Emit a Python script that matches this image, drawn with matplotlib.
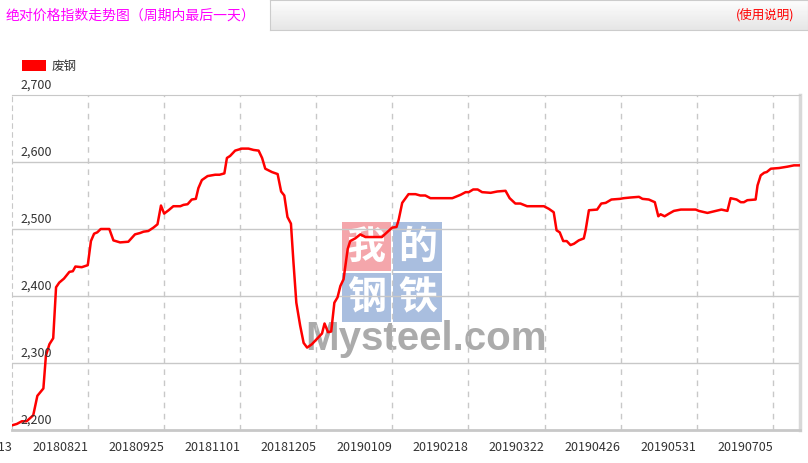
import numpy as np
import matplotlib.pyplot as plt
import matplotlib.transforms as mtransforms
from matplotlib.patches import Rectangle

plt.rcParams['font.family'] = ['Noto Sans CJK SC', 'DejaVu Sans']

W, H = 808, 463

title = "绝对价格指数走势图（周期内最后一天）"
help_text = "(使用说明)"
series_name = "废钢"

# trading day index (category axis) and index value
day_idx = [0, 1.5, 3.1, 4.6, 6.7, 8.0, 9.9, 10.7, 11.8, 13.0, 13.9, 14.9, 16.4, 18.1,
           19.2, 20.0, 22.0, 23.9, 24.9, 25.9, 26.9, 28.0, 30.7, 32.0, 34.1, 36.7,
           38.8, 40.4, 41.5, 43.0, 44.6, 45.9, 47.0, 48.0, 49.4, 50.9, 53.1, 54.1,
           55.4, 56.7, 58.0, 58.8, 59.9, 61.7, 64.1, 65.5, 67.0, 67.8, 68.8, 70.4,
           72.5, 74.6, 76.2, 77.8, 78.9, 79.9, 82.0, 83.8, 84.9, 85.9, 86.9, 88.0,
           88.8, 89.7, 90.9, 92.0, 93.1, 94.6, 96.2, 97.8, 98.6, 99.7, 100.7, 101.7,
           102.7, 103.6, 104.6, 105.9, 106.7, 108.3, 109.9, 111.5, 116.7, 118.3,
           119.9, 121.3, 122.0, 123.1, 125.1, 127.3, 128.8, 130.4, 132.0, 138.9,
           141.5, 143.1, 144.1, 145.5, 146.9, 148.3, 151.0, 153.1, 155.7, 157.0,
           158.8, 160.4, 162.5, 167.8, 169.4, 170.9, 171.8, 172.8, 173.9, 175.0,
           176.2, 177.3, 178.8, 180.4, 181.0, 182.0, 184.6, 185.9, 187.3, 189.1,
           191.8, 193.0, 195.1, 197.8, 198.9, 200.9, 202.8, 203.9, 204.6, 205.9,
           207.3, 208.8, 211.0, 215.7, 216.7, 219.4, 222.0, 223.8, 225.7, 226.7,
           228.6, 229.9, 230.9, 232.0, 234.6, 235.2, 236.2, 237.3, 238.1, 239.4,
           242.0, 244.6, 246.7, 248.6]
price = [2207, 2209, 2213, 2213, 2222, 2251, 2262, 2311, 2328, 2337, 2413, 2420, 2426, 2436,
         2437, 2444, 2443, 2446, 2482, 2493, 2495, 2500, 2500, 2483, 2480, 2481,
         2492, 2494, 2496, 2497, 2502, 2507, 2535, 2523, 2528, 2534, 2534, 2536,
         2537, 2544, 2545, 2561, 2573, 2579, 2581, 2581, 2583, 2606, 2609, 2617,
         2620, 2620, 2618, 2617, 2606, 2590, 2585, 2582, 2556, 2550, 2518, 2508,
         2450, 2390, 2356, 2330, 2323, 2328, 2336, 2344, 2359, 2346, 2347, 2390,
         2398, 2415, 2425, 2470, 2482, 2486, 2492, 2488, 2488, 2495,
         2502, 2503, 2514, 2539, 2552, 2552, 2550, 2550, 2546, 2546,
         2551, 2555, 2555, 2559, 2559, 2555, 2554, 2556, 2557, 2546,
         2538, 2538, 2534, 2534, 2530, 2525, 2498, 2495, 2482, 2482,
         2476, 2478, 2483, 2486, 2499, 2528, 2529, 2538, 2539, 2544,
         2545, 2546, 2547, 2548, 2545, 2544, 2540, 2519, 2522, 2519,
         2523, 2527, 2529, 2529, 2527, 2524, 2527, 2529, 2527, 2546,
         2544, 2540, 2540, 2543, 2544, 2565, 2580, 2584, 2585, 2590,
         2591, 2593, 2595, 2595]

tick_idx = [0, 24, 48, 72, 96, 120, 144, 168, 192, 216, 240]
tick_labels = ["20180713", "20180821", "20180925", "20181101", "20181205", "20190109",
               "20190218", "20190322", "20190426", "20190531", "20190705"]
y_ticks = [2200, 2300, 2400, 2500, 2600, 2700]

grid_col = '#c8c8c8'
text_col = '#333333'

fig = plt.figure(figsize=(W / 100, H / 100), dpi=100)

# header bar
fig.text(6 / W, 1 - 16 / H, title, color='#ff00ff', fontsize=10, va='center', ha='left')
hdr = fig.add_axes([270 / W, 1 - 30 / H, (W - 270) / W, 30 / H])
grad = np.linspace(0.99, 0.90, 30).reshape(-1, 1)
hdr.imshow(grad, cmap='gray', vmin=0, vmax=1, aspect='auto', extent=[0, 1, 0, 1])
hdr.set_xticks([])
hdr.set_yticks([])
for s in hdr.spines.values():
    s.set_color('#cccccc')
fig.text(794 / W, 1 - 15 / H, help_text, color='#ff0000', fontsize=9, va='center', ha='right')

# legend
fig.patches.append(Rectangle((22 / W, 1 - 71 / H), 24 / W, 11 / H, facecolor='red',
                             edgecolor='none', transform=fig.transFigure, figure=fig))
fig.text(52 / W, 1 - 66 / H, series_name, color=text_col, fontsize=9, va='center', ha='left')

ax = fig.add_axes([12 / W, (H - 430) / H, 788 / W, 335 / H])
ax.set_xlim(0, 248.6)
ax.set_ylim(2200, 2700)

# watermark
sq = [("我", 342, 222, '#f4a6ab'), ("的", 393, 222, '#a9bedf'),
      ("钢", 342, 273, '#a9bedf'), ("铁", 393, 273, '#a9bedf')]
for ch, x0, y0, c in sq:
    ax.add_patch(Rectangle((x0 / W, 1 - (y0 + 49) / H), 49 / W, 49 / H, facecolor=c,
                           edgecolor='none', transform=fig.transFigure, zorder=0.5))
    ax.text((x0 + 24.5) / W, 1 - (y0 + 25) / H, ch, color='white', fontsize=28,
            fontweight='bold', ha='center', va='center', transform=fig.transFigure, zorder=0.6)
ax.text(305 / W, 1 - 350 / H, "Mysteel.com", color='#ababab', fontsize=29, fontweight='bold',
        family='Liberation Sans', ha='left', va='baseline', transform=fig.transFigure, zorder=0.6)

for v in y_ticks[1:-1]:
    ax.axhline(v, color=grid_col, lw=1, zorder=1)
for t in tick_idx[1:]:
    ax.axvline(t, color=grid_col, lw=1, ls=(0, (4, 4)), zorder=1)

ax.plot(day_idx, price, color='#ff0000', lw=1.8, zorder=3)

ax.spines['top'].set_color(grid_col)
ax.spines['bottom'].set_color(grid_col)
ax.spines['bottom'].set_linewidth(2)
ax.spines['left'].set_color(grid_col)
ax.spines['left'].set_linestyle((0, (4, 4)))
ax.spines['right'].set_color('#d8d8d8')
ax.spines['right'].set_linewidth(2.5)

ax.set_yticks([])
ax.set_xticks(tick_idx)
ax.set_xticklabels(tick_labels, ha='right')
ax.tick_params(axis='x', length=0, pad=8, labelsize=9, colors=text_col)

ytrans = mtransforms.offset_copy(mtransforms.blended_transform_factory(ax.transAxes, ax.transData),
                                 fig=fig, x=0, y=10, units='dots')
for v in y_ticks:
    ax.text(8 / 788, v, f"{v:,}", transform=ytrans, ha='left', va='center',
            fontsize=9, color=text_col, clip_on=False, zorder=4)

fig.savefig('out.png', dpi=100)
